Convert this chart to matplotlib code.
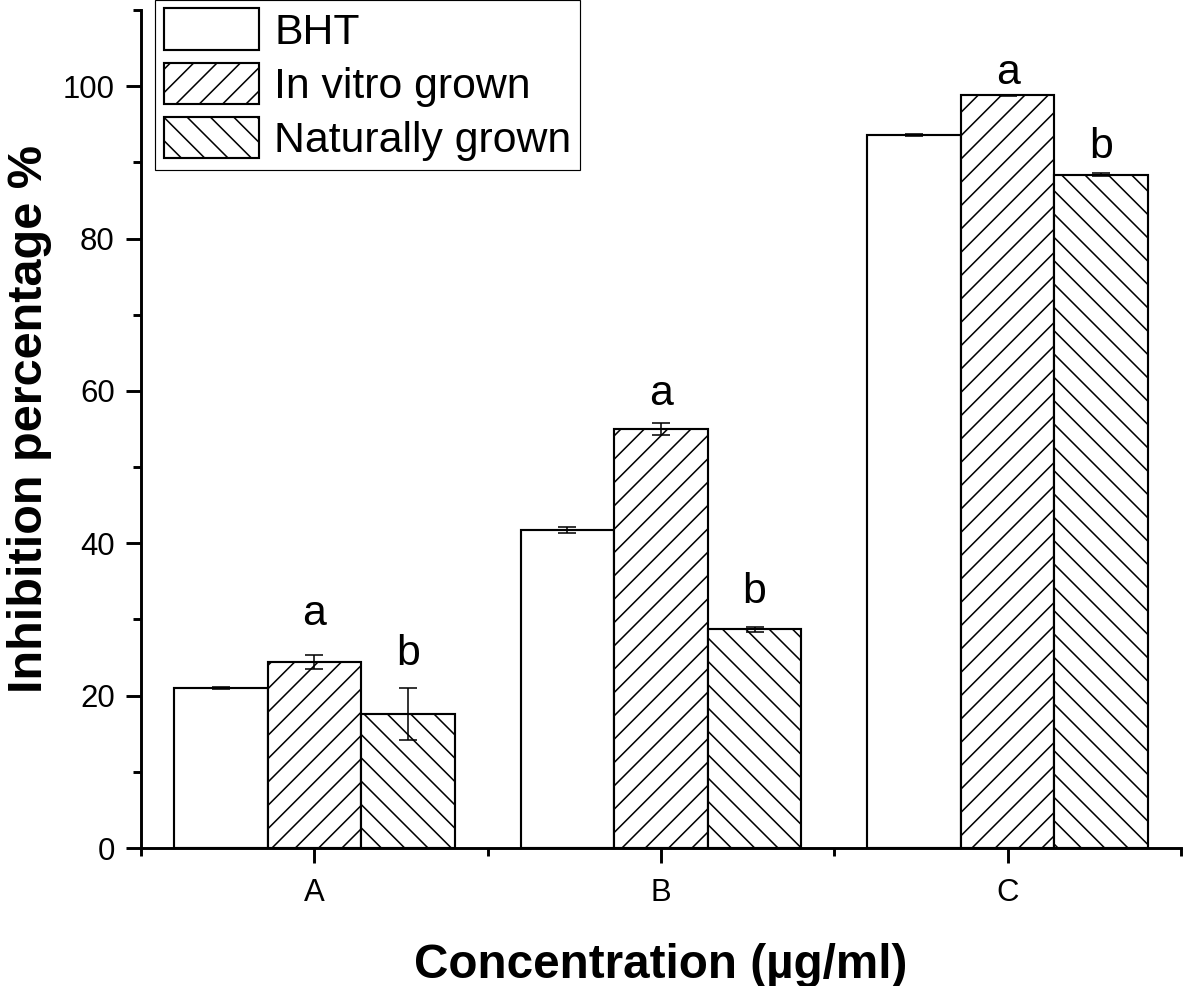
import matplotlib
matplotlib.use("Agg")
import matplotlib.pyplot as plt
import numpy as np
from matplotlib.ticker import FixedLocator

plt.rcParams['font.family'] = ['Liberation Sans', 'DejaVu Sans']
plt.rcParams['hatch.linewidth'] = 0.8

categories = ['A', 'B', 'C']
series = ['BHT', 'In vitro grown', 'Naturally grown']
bht = [21.0, 41.7, 93.6]
bht_err = [0.15, 0.4, 0.1]
invitro = [24.4, 55.0, 98.8]
invitro_err = [0.9, 0.8, 0.1]
natural = [17.6, 28.7, 88.4]
natural_err = [3.4, 0.3, 0.15]
invitro_letters = ['a', 'a', 'a']
invitro_letter_y = [29.3, 58.1, 100.3]
natural_letters = ['b', 'b', 'b']
natural_letter_y = [24.0, 32.2, 90.6]

DPI = 140
fig = plt.figure(figsize=(1183 / DPI, 986 / DPI), dpi=DPI)
ax = fig.add_axes([141 / 1183, 138 / 986, 1040 / 1183, 838 / 986])

x = np.arange(len(categories))
w = 0.27
hatches = ['', '//', '\\\\']
vals = [bht, invitro, natural]
errs = [bht_err, invitro_err, natural_err]
for i, (v, e, h, lab) in enumerate(zip(vals, errs, hatches, series)):
    ax.bar(x + (i - 1) * w, v, w, yerr=e, facecolor='white', edgecolor='black',
           linewidth=1.1, hatch=h, label=lab,
           error_kw=dict(ecolor='black', elinewidth=0.8, capsize=4.5, capthick=0.8))

for xi, yl, t in zip(x, invitro_letter_y, invitro_letters):
    ax.text(xi, yl, t, ha='center', va='baseline', fontsize=22)
for xi, yl, t in zip(x, natural_letter_y, natural_letters):
    ax.text(xi + w, yl, t, ha='center', va='baseline', fontsize=22)

ax.set_xlim(-0.5, 2.5)
ax.set_ylim(0, 110)
ax.set_xticks(x)
ax.set_xticklabels(categories)
ax.xaxis.set_minor_locator(FixedLocator([-0.5, 0.5, 1.5, 2.5]))
ax.yaxis.set_major_locator(FixedLocator([0, 20, 40, 60, 80, 100]))
ax.yaxis.set_minor_locator(FixedLocator([10, 30, 50, 70, 90, 110]))

for s in ['top', 'right']:
    ax.spines[s].set_visible(False)
for s in ['left', 'bottom']:
    ax.spines[s].set_linewidth(1.5)

ax.tick_params(axis='both', which='major', direction='out', length=7.5, width=1.5,
               labelsize=16, pad=6)
ax.tick_params(axis='both', which='minor', direction='out', length=4, width=1.5)
ax.tick_params(axis='x', which='major', pad=8)

ax.set_xlabel('Concentration (µg/ml)', fontsize=24.5, fontweight='bold', labelpad=18)
ax.set_ylabel('Inhibition percentage %', fontsize=25, fontweight='bold')
ax.yaxis.set_label_coords(-0.086, 0.512)

leg = ax.legend(loc='upper left', bbox_to_anchor=(0.0135, 1.012), borderaxespad=0,
                fontsize=22, frameon=True, fancybox=False, edgecolor='black',
                handlelength=2.24, handleheight=1.1, labelspacing=0.24,
                handletextpad=0.35, borderpad=0.2)
leg.get_frame().set_linewidth(0.6)
leg.get_frame().set_alpha(1)

fig.savefig('out.png', dpi=DPI)
